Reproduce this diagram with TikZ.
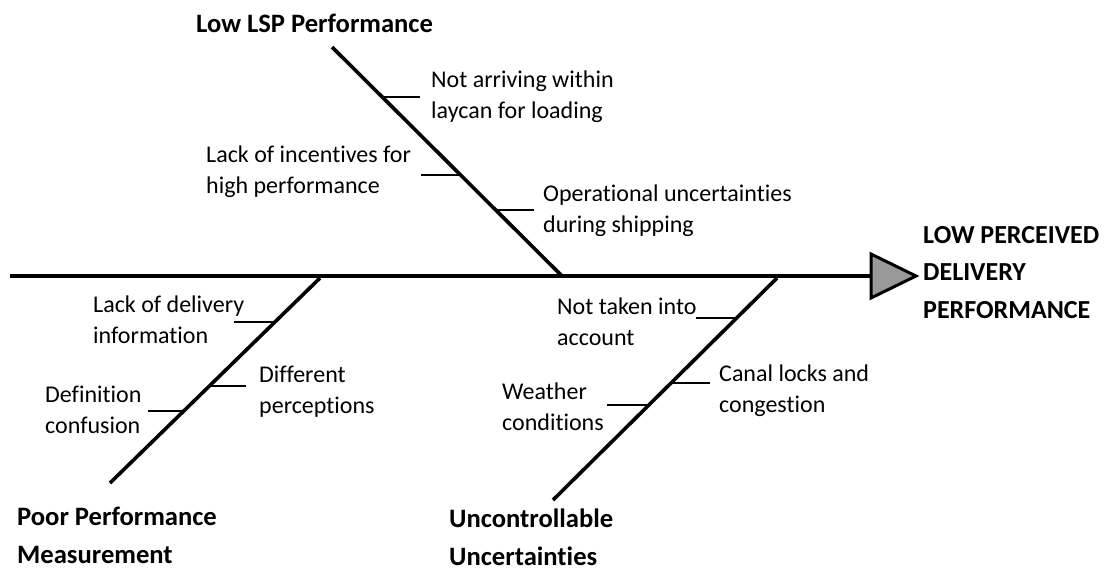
\documentclass[tikz,border=0pt]{standalone}
\usepackage{fontspec}
\setmainfont{Carlito}[Ligatures={NoCommon}]
\usetikzlibrary{calc}

\tikzset{
  spine/.style={line width=4.3pt},
  bone/.style={line width=3.6pt},
  tick/.style={line width=1.4pt},
  % anchor base west sits on the baseline of the last line
  cause/.style={anchor=base west, align=left, inner sep=0pt,
    font=\fontsize{24}{31}\selectfont},
  category/.style={anchor=base west, align=left, inner sep=0pt,
    font=\fontsize{26.6}{37.5}\selectfont\bfseries},
  effectlabel/.style={anchor=base west, align=left, inner sep=0pt,
    font=\fontsize{26}{37.5}\selectfont\bfseries},
  head/.style={line width=3pt, fill=black!40, line join=miter},
}

\begin{document}
\begin{tikzpicture}[x=1pt, y=-1pt]
\useasboundingbox (0,0) rectangle (1110,571);

% main spine and head
\coordinate (tail) at (10,276);
\coordinate (h1) at (871,254);
\coordinate (h2) at (916,276);
\coordinate (h3) at (871,298);
\coordinate (hb) at (871,276);
\draw[spine] (tail) -- (hb);
\draw[head] (h1) -- (h2) -- (h3) -- cycle;

% bones
\coordinate (uTop) at (332,47);
\coordinate (uBot) at (562,276);
\coordinate (lTop) at (320,278);
\coordinate (lBot) at (110,483);
\coordinate (rTop) at (777,278);
\coordinate (rBot) at (553,500);
\draw[bone] (uTop) -- (uBot);
\draw[bone] (lTop) -- (lBot);
\draw[bone] (rTop) -- (rBot);

% ticks on the upper bone
\coordinate (u1) at ($(uTop)!0.218!(uBot)$);
\coordinate (u2) at ($(uTop)!0.559!(uBot)$);
\coordinate (u3) at ($(uTop)!0.712!(uBot)$);
\draw[tick] (u1) -- ++(38,0);
\draw[tick] (u2) -- ++(-40,0);
\draw[tick] (u3) -- ++(38,0);

% ticks on the lower left bone
\coordinate (l1) at ($(lTop)!0.215!(lBot)$);
\coordinate (l2) at ($(lTop)!0.527!(lBot)$);
\coordinate (l3) at ($(lTop)!0.649!(lBot)$);
\draw[tick] (l1) -- ++(-41,0);
\draw[tick] (l2) -- ++(37,0);
\draw[tick] (l3) -- ++(-36,0);

% ticks on the lower right bone
\coordinate (r1) at ($(rTop)!0.18!(rBot)$);
\coordinate (r2) at ($(rTop)!0.473!(rBot)$);
\coordinate (r3) at ($(rTop)!0.572!(rBot)$);
\draw[tick] (r1) -- ++(-41,0);
\draw[tick] (r2) -- ++(39,0);
\draw[tick] (r3) -- ++(-42,0);

% category labels
\node[category] (catLSP) at (196,32) {Low LSP Performance};
\node[category] (catPPM) at (17,563) {Poor Performance\\Measurement};
\node[category] (catUU) at (449,565) {Uncontrollable\\Uncertainties};
\node[effectlabel] (effect) at (923,318) {LOW PERCEIVED\\DELIVERY\\PERFORMANCE};

% cause labels
\node[cause] (c1) at (431,118) {Not arriving within\\laycan for loading};
\node[cause] (c2) at (206,193) {Lack of incentives for\\high performance};
\node[cause] (c3) at (543,232) {Operational uncertainties\\during shipping};
\node[cause] (c4) at (93,343) {Lack of delivery\\information};
\node[cause] (c5) at (259,413) {Different\\perceptions};
\node[cause] (c6) at (45,433) {Definition\\confusion};
\node[cause] (c7) at (557,345) {Not taken into\\account};
\node[cause] (c8) at (719,412) {Canal locks and\\congestion};
\node[cause] (c9) at (502,430) {Weather\\conditions};
\end{tikzpicture}
\end{document}
